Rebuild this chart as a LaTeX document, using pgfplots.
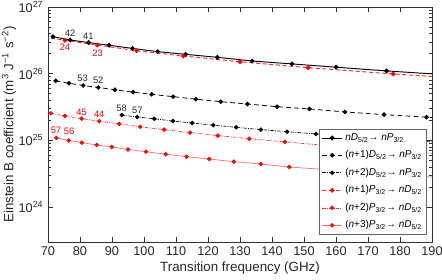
\documentclass[border=0pt]{standalone}
\usepackage{fontspec}
\setmainfont{Liberation Sans}
\usepackage{pgfplots}
\pgfplotsset{compat=1.18}
\definecolor{myred}{RGB}{255,0,0}
\newcommand{\nn}{\textit{n}}
\begin{document}
\begin{tikzpicture}
\path[use as bounding box] (-36pt,-27.75pt) rectangle (295.5pt,181.5pt);
\begin{axis}[
  at={(0,0)}, anchor=south west,
  scale only axis, width=288pt, height=176.25pt,
  xmin=70, xmax=190, ymin=3e23, ymax=1e27, ymode=log,
  xtick={70,80,...,190},
  ytick={1e24,1e25,1e26,1e27},
  yticklabels={10\textsuperscript{24},10\textsuperscript{25},10\textsuperscript{26},10\textsuperscript{27}},
  /pgf/number format/assume math mode=true,
  tick align=inside, major tick length=4pt, minor tick length=2pt,
  ticklabel style={font=\fontsize{9.5}{11}\selectfont, text=black!85},
  axis line style={black!80, line width=0.6pt},
  every tick/.style={black!80, line width=0.5pt},
  xlabel={Transition frequency (GHz)},
  ylabel={Einstein B coefficient (m\textsuperscript{3} J\textsuperscript{−1} s\textsuperscript{−2})},
  label style={font=\fontsize{10}{12}\selectfont, text=black!85},
  xlabel style={at={(axis description cs:0.5,-0.1106)}, anchor=center},
  ylabel style={at={(axis description cs:-0.1016,0.5)}, anchor=center},
  legend style={at={(rel axis cs:1,0)}, anchor=south east, xshift=-3.75pt, yshift=5.25pt,
    font=\fontsize{7.5}{9}\selectfont, draw=black!60, line width=0.5pt, fill=white,
    row sep=2.2pt, inner sep=1.5pt},
  legend cell align=left,
  legend image code/.code={\draw[mark repeat=2,mark phase=2,#1] plot coordinates {(0pt,0pt)(7.5pt,0pt)(15pt,0pt)};},
  every axis plot/.append style={mark=*, mark size=1.4pt},
  clip=true,
]
% 1: nD5/2 -> nP3/2
\addplot[black, line width=0.7pt, mark options={solid, fill=black}] coordinates {
(71.56,3.59e26) (76.9,3.20e26) (82.7,2.92e26) (89.1,2.67e26) (96.4,2.39e26) (104.3,2.14e26) (113.0,1.95e26) (122.9,1.76e26) (133.8,1.55e26) (146.25,1.40e26) (160.0,1.25e26) (175.8,1.10e26) (193.4,9.7e25)};
\addlegendentry{\nn\textit{D}\textsubscript{5/2}→ \nn\textit{P}\textsubscript{3/2}}
% 2: (n+1)D5/2 -> nP3/2
\addplot[black, line width=0.6pt, dash pattern=on 3.5pt off 2.5pt, mark options={solid, fill=black}] coordinates {
(72.4,7.83e25) (76.56,7.18e25) (81.0,6.65e25) (85.7,6.21e25) (90.9,5.74e25) (96.6,5.28e25) (102.4,4.91e25) (109.1,4.52e25) (116.2,4.15e25) (124.0,3.80e25) (132.3,3.51e25) (141.6,3.20e25) (151.7,2.96e25) (162.8,2.67e25) (175.0,2.43e25) (188.3,2.23e25) (203.0,2.05e25)};
\addlegendentry{(\nn+1)\textit{D}\textsubscript{5/2}→ \nn\textit{P}\textsubscript{3/2}}
% 3: (n+2)D5/2 -> nP3/2
\addplot[black, line width=0.5pt, dash pattern=on 2.5pt off 1pt on 0.6pt off 1pt, mark options={solid, fill=black}] coordinates {
(93.03,2.40e25) (97.9,2.24e25) (103.2,2.11e25) (109.06,1.95e25) (115.1,1.82e25) (121.66,1.69e25) (128.8,1.57e25) (136.5,1.45e25) (144.7,1.35e25) (153.75,1.25e25) (163.3,1.15e25) (173.75,1.07e25) (185.3,9.8e24) (197.8,9.0e24)};
\addlegendentry{(\nn+2)\textit{D}\textsubscript{5/2}→ \nn\textit{P}\textsubscript{3/2}}
% 4: (n+1)P3/2 -> nD5/2
\addplot[myred!85, line width=0.7pt, dash pattern=on 3pt off 2pt, mark options={solid, fill=myred, draw=myred}] coordinates {
(66.8,3.67e26) (75.3,3.16e26) (85.4,2.69e26) (97.7,2.21e26) (112.3,1.84e26) (130.0,1.51e26) (151.3,1.23e26) (177.9,9.9e25) (210.8,7.85e25)};
\addlegendentry{(\nn+1)\textit{P}\textsubscript{3/2}→ \nn\textit{D}\textsubscript{5/2}}
% 5: (n+2)P3/2 -> nD5/2
\addplot[myred!80, line width=0.5pt, dash pattern=on 2.5pt off 1pt on 0.6pt off 1pt, mark options={solid, fill=myred, draw=myred}] coordinates {
(70.9,2.55e25) (75.3,2.32e25) (80.5,2.12e25) (86.0,1.94e25) (92.25,1.77e25) (98.8,1.60e25) (106.3,1.45e25) (114.4,1.31e25) (123.1,1.18e25) (132.9,1.06e25) (144.0,9.50e24) (156.0,8.47e24) (169.3,7.57e24) (183.8,6.73e24) (199.6,5.98e24)};
\addlegendentry{(\nn+2)\textit{P}\textsubscript{3/2}→ \nn\textit{D}\textsubscript{5/2}}
% 6: (n+3)P3/2 -> nD5/2
\addplot[myred!60, line width=0.5pt, mark options={solid, fill=myred, draw=myred}] coordinates {
(72.6,1.09e25) (76.5,9.97e24) (80.6,9.25e24) (85.2,8.54e24) (89.9,7.96e24) (95.0,7.31e24) (100.6,6.77e24) (106.8,6.21e24) (113.3,5.70e24) (120.4,5.26e24) (128.1,4.80e24) (136.5,4.43e24) (145.4,3.99e24) (155.5,3.69e24) (166.5,3.38e24) (178.3,3.08e24) (191.0,2.80e24)};
\addlegendentry{(\nn+3)\textit{P}\textsubscript{3/2}→ \nn\textit{D}\textsubscript{5/2}}
% annotations
\begin{scope}[every node/.style={font=\fontsize{7}{8}\selectfont}]
\node[text=black!85] at (axis cs:76.9,4.04e26) {42};
\node[text=black!85] at (axis cs:82.6,3.67e26) {41};
\node[text=myred] at (axis cs:75.3,2.46e26) {24};
\node[text=myred] at (axis cs:85.5,2.02e26) {23};
\node[text=black!85] at (axis cs:80.8,8.47e25) {53};
\node[text=black!85] at (axis cs:85.7,7.85e25) {52};
\node[text=black!85] at (axis cs:93.0,3.06e25) {58};
\node[text=black!85] at (axis cs:97.9,2.79e25) {57};
\node[text=myred] at (axis cs:80.5,2.60e25) {45};
\node[text=myred] at (axis cs:86.0,2.46e25) {44};
\node[text=myred] at (axis cs:72.5,1.40e25) {57};
\node[text=myred] at (axis cs:76.6,1.35e25) {56};
\end{scope}
\end{axis}
\end{tikzpicture}
\end{document}
